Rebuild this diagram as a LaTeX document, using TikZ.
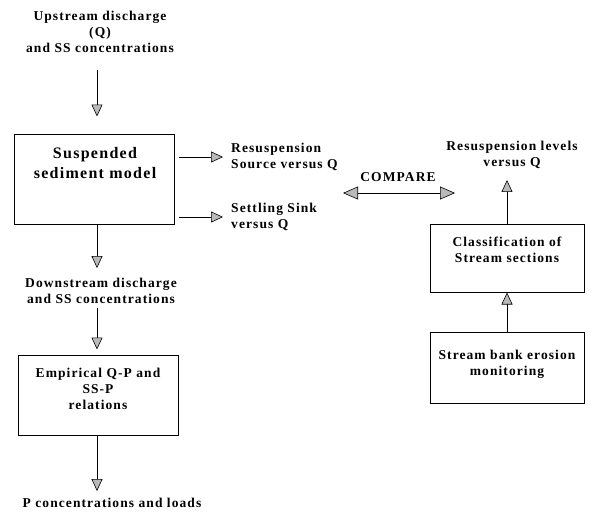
\documentclass[tikz,border=0pt]{standalone}
\usepackage{fontspec}
\setmainfont{Liberation Serif}[LetterSpace=8]
\usetikzlibrary{arrows.meta,calc}
\tikzset{
  txt/.style={font=\bfseries\fontsize{13.5}{16}\selectfont, align=center, inner sep=0pt},
  bigtxt/.style={font=\bfseries\fontsize{16}{20}\selectfont, align=center, inner sep=0pt},
  box/.style={draw, line width=1pt, inner sep=0pt},
  arr/.style={line width=0.9pt, -{Triangle[length=12pt,width=11pt,fill=gray!55,line width=0.6pt]}},
  darr/.style={line width=0.9pt, {Triangle[length=15pt,width=13pt,fill=gray!55,line width=0.6pt]}-{Triangle[length=15pt,width=13pt,fill=gray!55,line width=0.6pt]}},
}
\begin{document}
\begin{tikzpicture}[x=1pt,y=-1pt]
\useasboundingbox (0,0) rectangle (593,516);
\coordinate (colL) at (97,0);
\coordinate (colR) at (507,0);
% left column
\node[txt] (up) at (100,32) {Upstream discharge\\(Q)\\and SS concentrations};
\node[box, minimum width=160pt, minimum height=90pt] (sm) at (94,179) {};
\node[bigtxt] (smt) at (95,163) {Suspended\\sediment model};
\node[txt] (down) at (101,291) {Downstream discharge\\and SS concentrations};
\node[box, minimum width=160pt, minimum height=80pt] (emp) at (98,395) {};
\node[txt] (empt) at (98,389) {Empirical Q-P and\\SS-P\\relations};
\node[txt] (pc) at (112,503) {P concentrations and loads};
% middle
\node[txt, anchor=west, align=left] (res) at (231,157) {Resuspension\\Source versus Q};
\node[txt, anchor=west, align=left] (set) at (231,217) {Settling Sink\\versus Q};
\node[txt] (cmp) at (398,177) {COMPARE};
\coordinate (cL) at (343,193);
\coordinate (cR) at (455,193);
% right column
\node[txt] (resl) at (512,155) {Resuspension levels\\versus Q};
\node[box, minimum width=154pt, minimum height=68pt] (cls) at (507,258) {};
\node[txt] (clst) at (507,250) {Classification of\\Stream sections};
\node[box, minimum width=154pt, minimum height=71pt] (sb) at (507,367.5) {};
\node[txt] (sbt) at (507,364.5) {Stream bank erosion\\monitoring};
% connectors
\draw[arr, shorten <=17pt, shorten >=17pt] (colL |- up.south) -- (colL |- sm.north);
\draw[arr, shorten <=4pt, shorten >=8pt] (sm.east |- res.west) -- (res.west);
\draw[arr, shorten <=4pt, shorten >=8pt] (sm.east |- set.west) -- (set.west);
\draw[arr, shorten >=10pt] (colL |- sm.south) -- (colL |- down.north);
\draw[arr, shorten <=4pt, shorten >=5pt] (colL |- down.south) -- (colL |- emp.north);
\draw[arr, shorten >=7pt] (colL |- emp.south) -- (colL |- pc.north);
\draw[darr] (cL) -- (cR);
\draw[arr, shorten >=11pt] (colR |- cls.north) -- (colR |- resl.south);
\draw[arr] (colR |- sb.north) -- (colR |- cls.south);
\end{tikzpicture}
\end{document}
